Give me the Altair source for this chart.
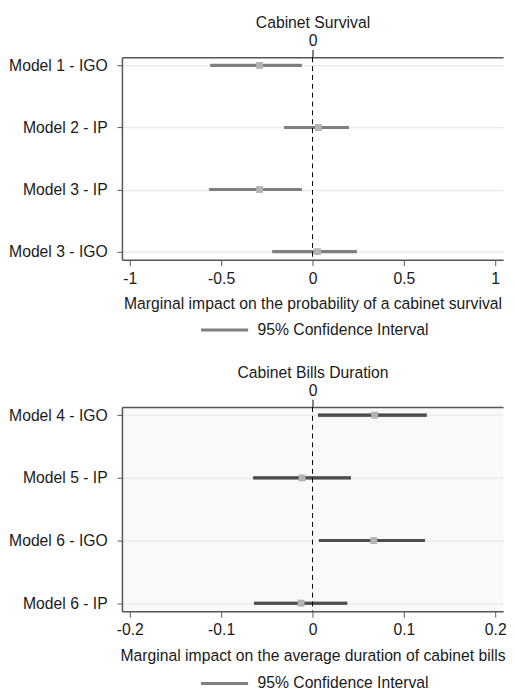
import altair as alt
import pandas as pd

# ---- data ----
survival_models = ["Model 1 - IGO", "Model 2 - IP", "Model 3 - IP", "Model 3 - IGO"]
survival_est = [-0.29, 0.032, -0.29, 0.027]
survival_lo = [-0.559, -0.156, -0.565, -0.220]
survival_hi = [-0.059, 0.199, -0.059, 0.242]

bills_models = ["Model 4 - IGO", "Model 5 - IP", "Model 6 - IGO", "Model 6 - IP"]
bills_est = [0.068, -0.0115, 0.067, -0.0125]
bills_lo = [0.006, -0.065, 0.007, -0.064]
bills_hi = [0.125, 0.042, 0.123, 0.038]

survival_ticks = [-1, -0.5, 0, 0.5, 1]
bills_ticks = [-0.2, -0.1, 0, 0.1, 0.2]
legend_label = "95% Confidence Interval"

FONT = "Liberation Sans"
AXIS_COL = "#555555"
TEXT_COL = "#1a1a1a"
LEGEND_COL = "#808080"


def panel(models, est, lo, hi, ticks, domain, title, xtitle, ci_color, bg, h, leg_y):
    df = pd.DataFrame({"model": models, "est": est, "lo": lo, "hi": hi,
                       "ci": [legend_label] * len(models)})
    zero = pd.DataFrame({"zero": [0]})
    xscale = alt.Scale(domain=domain, nice=False, zero=False)
    yaxis = alt.Axis(grid=True, gridColor="#ebebeb", gridWidth=1.5,
                     tickSize=5, tickColor=AXIS_COL, labelPadding=10,
                     domainColor=AXIS_COL, domainWidth=1.5,
                     labelFontSize=16, labelFont=FONT, labelColor=TEXT_COL)
    yenc = alt.Y("model:N", sort=models, title=None,
                 scale=alt.Scale(type="point", padding=0.13), axis=yaxis)

    # layer carrying the legend (grey), covered by the visible CI rules
    ci_legend = alt.Chart(df).mark_rule(strokeWidth=3, strokeCap="butt").encode(
        x=alt.X("lo:Q", scale=xscale,
                axis=alt.Axis(orient="bottom", values=ticks, title=xtitle,
                              labelExpr="datum.value + ''",
                              tickSize=6, tickColor=AXIS_COL, labelPadding=5,
                              domainColor=AXIS_COL, domainWidth=1.5, grid=False,
                              labelFontSize=16, labelFont=FONT, labelColor=TEXT_COL,
                              titleFontSize=16, titleFont=FONT, titleFontWeight="normal",
                              titleColor=TEXT_COL, titlePadding=10)),
        x2="hi:Q",
        y=yenc,
        color=alt.Color("ci:N", scale=alt.Scale(range=[LEGEND_COL]),
                        legend=alt.Legend(orient="none", legendX=95, legendY=leg_y,
                                          title=None, direction="horizontal",
                                          symbolType="M-3,0L3,0", symbolSize=256,
                                          symbolStrokeWidth=3,
                                          symbolFillColor="transparent",
                                          labelFontSize=16, labelFont=FONT,
                                          labelColor=TEXT_COL, labelOffset=24,
                                          labelLimit=400, padding=0)),
    )
    ci = alt.Chart(df).mark_rule(strokeWidth=3.2, strokeCap="butt", color=ci_color).encode(
        x=alt.X("lo:Q", scale=xscale, axis=None),
        x2="hi:Q",
        y=yenc,
    )
    pts = alt.Chart(df).mark_point(shape="square", filled=True, size=49,
                                   color="#b3b3b3", opacity=1).encode(
        x=alt.X("est:Q", scale=xscale, axis=None),
        y=yenc,
    )
    zline = alt.Chart(zero).mark_rule(color="black", strokeDash=[5, 4], strokeWidth=1).encode(
        x=alt.X("zero:Q", scale=xscale,
                axis=alt.Axis(orient="top", values=[0], title=title,
                              labelExpr="datum.value + ''",
                              tickSize=8, tickColor="black", labelPadding=1,
                              domainColor=AXIS_COL, domainWidth=1.5, grid=False,
                              labelFontSize=16, labelFont=FONT, labelColor=TEXT_COL,
                              titleFontSize=16, titleFont=FONT, titleFontWeight="normal",
                              titleColor=TEXT_COL, titlePadding=2)),
    )
    return alt.layer(ci_legend, ci, pts, zline).resolve_axis(x="independent").properties(
        width=388, height=h,
        view=alt.ViewBackground(fill=bg, stroke="transparent"),
    )


top = panel(survival_models, survival_est, survival_lo, survival_hi, survival_ticks,
            [-1.043, 1.043], "Cabinet Survival",
            "Marginal impact on the probability of a cabinet survival",
            "#7f7f7f", "white", 206, 268)
bottom = panel(bills_models, bills_est, bills_lo, bills_hi, bills_ticks,
               [-0.2086, 0.2086], "Cabinet Bills Duration",
               "Marginal impact on the average duration of cabinet bills",
               "#4d4d4d", "#f9f9f9", 208, 272)

chart = alt.vconcat(top, bottom, spacing=25).resolve_scale(
    color="independent", x="independent", y="independent"
).resolve_legend(color="independent").properties(
    padding=0, background="white"
)

chart.save("out.html", embed_options={"renderer": "svg", "actions": False})
